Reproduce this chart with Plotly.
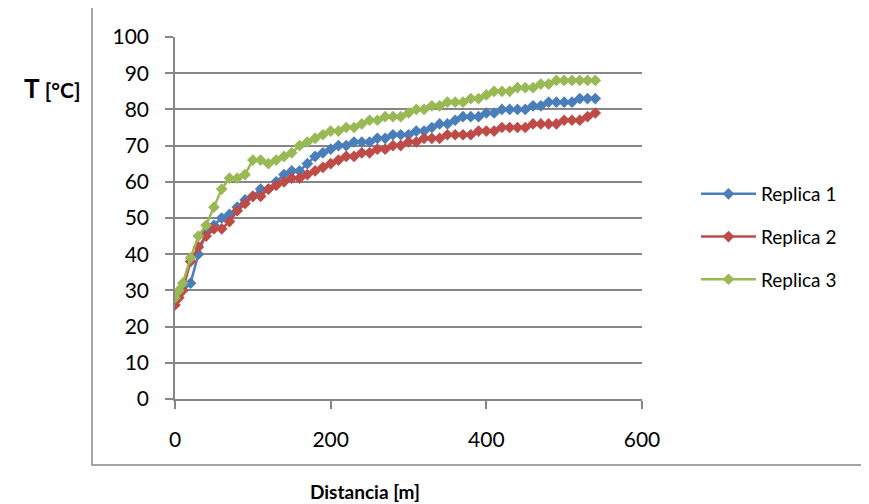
import plotly.graph_objects as go

distancia = [0, 5, 10] + list(range(20, 550, 10))

replica1 = [27, 29, 31, 32, 40, 46, 48, 50, 51, 53,
            55, 56, 58, 58, 60, 62, 63, 63, 65, 67,
            68,
            69, 70, 70, 71, 71, 71, 72, 72, 73, 73,
            73, 74, 74, 75, 76, 76, 77, 78, 78, 78,
            79, 79, 80, 80, 80, 80, 81, 81, 82, 82,
            82, 82, 83, 83, 83]
replica2 = [26, 28, 30, 38, 42, 45, 47, 47, 49, 52,
            54, 56, 56, 58, 59, 60, 61, 61, 62, 63,
            64,
            65, 66, 67, 67, 68, 68, 69, 69, 70, 70,
            71, 71, 72, 72, 72, 73, 73, 73, 73, 74,
            74, 74, 75, 75, 75, 75, 76, 76, 76, 76,
            77, 77, 77, 78, 79]
replica3 = [28, 30, 32, 39, 45, 48, 53, 58, 61, 61,
            62, 66, 66, 65, 66, 67, 68, 70, 71, 72,
            73,
            74, 74, 75, 75, 76, 77, 77, 78, 78, 78,
            79, 80, 80, 81, 81, 82, 82, 82, 83, 83,
            84, 85, 85, 85, 86, 86, 86, 87, 87, 88,
            88, 88, 88, 88, 88]

series_names = ["Replica 1", "Replica 2", "Replica 3"]
series_colors = ["#4A7EBB", "#BE4B48", "#98B954"]
x_ticks = [0, 200, 400, 600]
y_ticks = list(range(0, 101, 10))

FONT = "Lato"

fig = go.Figure()
for i, (name, vals, col) in enumerate(zip(series_names, [replica1, replica2, replica3], series_colors)):
    fig.add_trace(go.Scatter(
        x=distancia, y=vals, name=name, mode="lines+markers",
        line=dict(color=col, width=2.5),
        marker=dict(symbol="diamond", size=9, color=col),
        legendgroup=f"g{i}",
    ))

# page body has an 8px margin; compensate
OFF = 8
W, H = 869 - OFF, 504 - OFF
L, R, T, B = 175 - OFF, 642 - OFF, 37 - OFF, 399 - OFF
pw, ph = R - L, B - T


def px_x(v):
    return (v - OFF - L) / pw


def px_y(v):
    return (B - (v - OFF)) / ph


fig.update_layout(
    width=W, height=H,
    margin=dict(l=L, r=W - R, t=T, b=H - B),
    paper_bgcolor="white", plot_bgcolor="white",
    font=dict(family=FONT, color="black"),
    showlegend=True,
    legend=dict(
        x=px_x(696), xanchor="left",
        y=px_y(175), yanchor="top",
        font=dict(size=19, family=FONT, color="black"),
        itemwidth=55, tracegroupgap=15, traceorder="grouped",
        bgcolor="rgba(0,0,0,0)",
    ),
    xaxis=dict(
        range=[0, 600], tickvals=x_ticks, ticktext=[str(v) for v in x_ticks],
        showgrid=False, zeroline=False,
        showline=True, linecolor="#868686", linewidth=1.5,
        ticks="outside", ticklen=8, tickcolor="#868686", tickwidth=1.5,
        tickfont=dict(size=21, family=FONT), ticklabelstandoff=13,
    ),
    yaxis=dict(
        range=[0, 100], tickvals=y_ticks, ticktext=[str(v) for v in y_ticks],
        showgrid=True, gridcolor="#868686", gridwidth=1.5, zeroline=False,
        showline=True, linecolor="#868686", linewidth=1.5,
        ticks="outside", ticklen=8, tickcolor="#868686", tickwidth=1.5,
        tickfont=dict(size=21, family=FONT), ticklabelstandoff=12,
    ),
    shapes=[dict(
        type="rect", xref="paper", yref="paper",
        x0=px_x(92), x1=px_x(866),
        y0=px_y(465), y1=px_y(7),
        line=dict(color="#868686", width=1.5), layer="below",
    )],
    annotations=[
        dict(
            text="<b><span style='font-size:26px'>T</span> [°C]</b>",
            xref="paper", yref="paper", x=px_x(22), y=px_y(88),
            xanchor="left", yanchor="middle", showarrow=False,
            font=dict(size=21, family=FONT),
        ),
        dict(
            text="<b>Distancia [m]</b>",
            xref="paper", yref="paper", x=px_x(365), y=px_y(491),
            xanchor="center", yanchor="middle", showarrow=False,
            font=dict(size=19, family=FONT),
        ),
    ],
)

fig.write_html("out.html")
